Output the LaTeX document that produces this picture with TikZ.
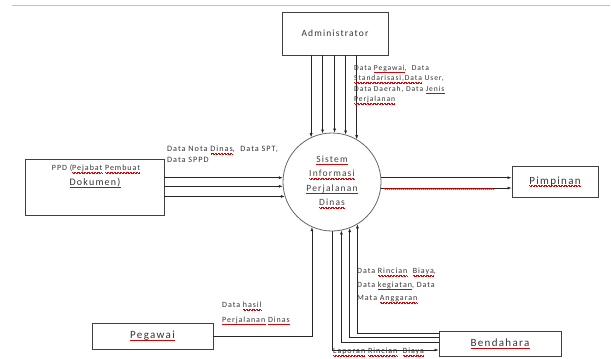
\documentclass[tikz,border=0pt]{standalone}
\usepackage{fontspec}
\setmainfont{Carlito}
\newfontfamily\boxfont[LetterSpace=12]{Carlito}
\newfontfamily\labelfont[LetterSpace=12]{Carlito}
\usetikzlibrary{arrows.meta,decorations.pathmorphing,calc}
\definecolor{pageline}{RGB}{170,196,226}
\newcommand\sperr[1]{\leavevmode\setbox0\hbox{#1}\rlap{\color{red!85!black}\xleaders\hbox{\vrule height-1.4pt depth1.9pt width0.7pt\vrule height-1.9pt depth2.4pt width0.7pt}\hskip\wd0}\box0\relax}
\tikzset{
  entity/.style={draw=black!75,line width=0.9pt,fill=white,text=black!80,font=\boxfont\fontsize{11}{13}\selectfont},
  process/.style={circle,draw=black!60,line width=0.8pt,minimum size=98pt,inner sep=0pt,align=center,text=black!75,font=\boxfont\fontsize{9.5}{14.5}\selectfont},
  flow/.style={->,draw=black!85,line width=0.6pt},
  flowlabel/.style={anchor=north west,align=left,inner sep=0pt,text=black!80,font=\labelfont\fontsize{8}{10.5}\selectfont}
}
\begin{document}
\begin{tikzpicture}[x=1pt,y=-1pt,>={Latex[length=4pt,width=3pt]}]
  \useasboundingbox (0,0) rectangle (611,359);
  \draw[pageline,line width=1pt] (12,5) -- (610,5);
  \node[entity,minimum width=106pt,minimum height=43pt,font=\boxfont\fontsize{9.5}{11}\selectfont] (admin) at (335,33.5) {Administrator};
  \node[process] (sys) at (332,182) {\sperr{Sistem}\\\sperr{Informasi}\\\sperr{Perjalanan}\\\sperr{Dinas}};
  \node[entity,minimum width=139pt,minimum height=56pt] (ppd) at (94.5,187) {};
  \node[inner sep=0pt,text=black!80,font=\boxfont\fontsize{8}{10}\selectfont] (ppdtop) at (96,169) {PPD (\sperr{Pejabat} \sperr{Pembuat}};
  \node[inner sep=0pt,text=black!80,font=\boxfont\fontsize{10}{12}\selectfont] (ppdbot) at (95,183) {\sperr{Dokumen)}};
  \node[entity,minimum width=86pt,minimum height=31pt] (pim) at (555,181.5) {\sperr{Pimpinan}};
  \node[entity,minimum width=121pt,minimum height=26pt] (peg) at (152.5,336) {\sperr{Pegawai}};
  \node[entity,minimum width=122pt,minimum height=25pt] (bend) at (500,343.5) {\sperr{Bendahara}};

  \foreach \a in {115.4,101.8,87.7,74.6,60.7}
    \draw[flow] (sys.\a |- admin.south) -- (sys.\a);
  \foreach \a in {175.3,185.9,197.8}
    \draw[flow] (sys.\a -| ppd.east) -- (sys.\a);
  \foreach \a in {5.9,-7}
    \draw[flow] (sys.\a) -- (sys.\a -| pim.west);
  \draw[red,line width=0.5pt,decorate,decoration={snake,amplitude=0.5pt,segment length=2pt}]
    ($(sys.-7)+(3,1)$) -- ($(sys.-7 -| pim.west)+(-17,1)$);
  \draw[flow] (peg.east) -| (sys.-114.1);
  \draw[flow] ([yshift=10.5pt]bend.west) -| (sys.-59.3);
  \draw[flow] ([yshift=6.5pt]bend.west) -| (sys.-69.7);
  \draw[flow] ([yshift=1.5pt]bend.west) -| (sys.-79.4);
  \draw[flow] (sys.-90) |- ([yshift=-6.5pt]bend.west);

  \node[flowlabel,font=\labelfont\fontsize{7.6}{10.5}\selectfont] (adminlbl) at (354,65) {Data \sperr{Pegawai},~ Data\\\sperr{Standarisasi,Data} User,\\Data Daerah, Data \sperr{Jenis}\\\sperr{Perjalanan}};
  \node[flowlabel,font=\labelfont\fontsize{8.2}{11}\selectfont] (ppdlbl) at (167,146) {Data Nota \sperr{Dinas},~ Data SPT,\\Data SPPD};
  \node[flowlabel,font=\labelfont\fontsize{8}{14.5}\selectfont] (peglbl) at (222,302) {Data \sperr{hasil}\\\sperr{Perjalanan} \sperr{Dinas}};
  \node[flowlabel,font=\labelfont\fontsize{8}{13.5}\selectfont] (bendlbl) at (357,268) {Data \sperr{Rincian}~ \sperr{Biaya},\\Data \sperr{kegiatan}, Data\\Mata \sperr{Anggaran}};
  \node[flowlabel] (laplbl) at (333,348) {\sperr{Laporan} \sperr{Rincian}~ \sperr{Biaya}};
\end{tikzpicture}
\end{document}
